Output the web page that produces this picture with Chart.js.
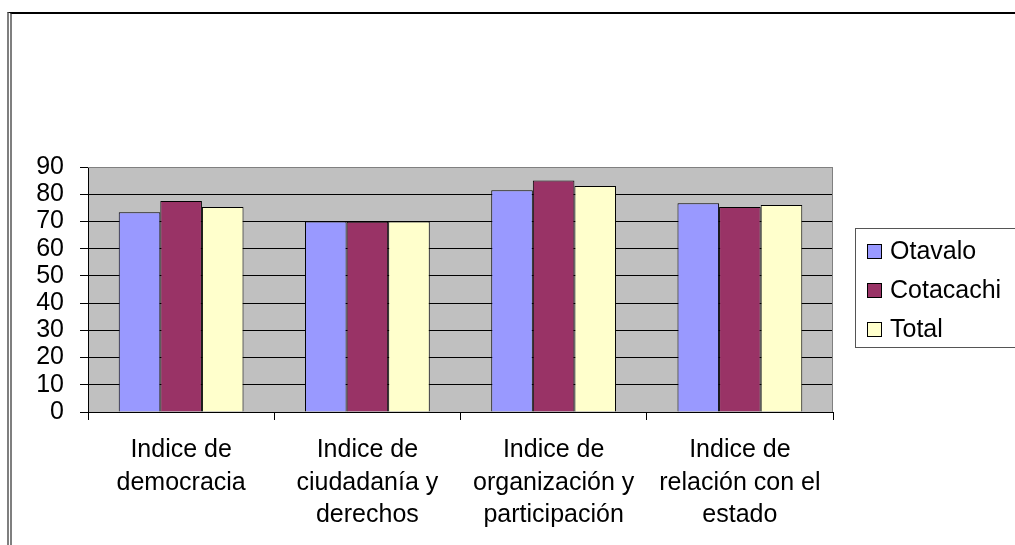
<!DOCTYPE html>
<html>
<head>
<meta charset="utf-8">
<script src="https://cdn.jsdelivr.net/npm/chart.js@4/dist/chart.umd.min.js"></script>
<style>
  html, body { margin: 0; padding: 0; background: #fff; }
  #wrap { position: relative; width: 1015px; height: 545px; overflow: hidden; }
  #frame {
    position: absolute; left: 7px; top: 12px; width: 1100px; height: 600px;
    border-top: 2px solid #000; border-left: 5px double #7f7f7f;
  }
  #chart { position: absolute; left: 0; top: 0; }
</style>
</head>
<body>
<div id="wrap">
  <div id="frame"></div>
  <canvas id="chart" width="1015" height="545"></canvas>
</div>
<script>
// categories (multi-line labels) and series values
const categories = [
  ['Indice de', 'democracia'],
  ['Indice de', 'ciudadanía y', 'derechos'],
  ['Indice de', 'organización y', 'participación'],
  ['Indice de', 'relación con el', 'estado']
];
const otavalo = [73.4, 70.0, 81.5, 76.7];
const cotacachi = [77.5, 69.9, 85.0, 75.3];
const total = [75.3, 70.0, 83.0, 76.0];
const seriesNames = ['Otavalo', 'Cotacachi', 'Total'];
const seriesColors = ['#9999FF', '#993366', '#FFFFCC'];

const FONT = "'Liberation Sans', Arial, sans-serif";
Chart.defaults.font.family = FONT;
Chart.defaults.font.size = 25;
Chart.defaults.color = '#000';

// grey plot background with grey top/right border
const plotBg = {
  id: 'plotBg',
  beforeDraw(chart) {
    const a = chart.chartArea, c = chart.ctx;
    c.save();
    c.fillStyle = '#C0C0C0';
    c.fillRect(a.left, a.top, a.right - a.left, a.bottom - a.top);
    c.restore();
  },
  afterDatasetsDraw(chart) {
    const a = chart.chartArea, c = chart.ctx;
    c.save();
    c.strokeStyle = '#808080';
    c.lineWidth = 1;
    c.beginPath();
    c.moveTo(a.left, a.top + 0.5);
    c.lineTo(a.right - 0.5, a.top + 0.5);
    c.lineTo(a.right - 0.5, a.bottom);
    c.stroke();
    c.restore();
  }
};

// boxed legend at the right, like the Excel original
const boxLegend = {
  id: 'boxLegend',
  afterDraw(chart) {
    const c = chart.ctx;
    c.save();
    c.strokeStyle = '#555';
    c.lineWidth = 1;
    c.strokeRect(855.5, 228.5, 200, 119);
    c.font = '25px ' + FONT;
    c.textBaseline = 'middle';
    chart.data.datasets.forEach((ds, i) => {
      const y = 251 + i * 39;
      c.fillStyle = ds.backgroundColor;
      c.fillRect(867, y - 7, 14, 14);
      c.strokeStyle = '#000';
      c.strokeRect(867.5, y - 6.5, 14, 14);
      c.fillStyle = '#000';
      c.fillText(ds.label, 890, y + 1);
    });
    c.restore();
  }
};

new Chart(document.getElementById('chart'), {
  type: 'bar',
  data: {
    labels: categories,
    datasets: [otavalo, cotacachi, total].map((d, i) => ({
      label: seriesNames[i],
      data: d,
      backgroundColor: seriesColors[i],
      borderColor: '#000',
      borderWidth: 1,
      categoryPercentage: 0.67,
      barPercentage: 1
    }))
  },
  options: {
    responsive: false,
    animation: false,
    devicePixelRatio: 1,
    layout: { padding: { left: 0, top: 167, right: 182, bottom: 0 } },
    plugins: {
      legend: { display: false },
      tooltip: { enabled: false }
    },
    scales: {
      x: {
        afterFit(scale) { scale.height = 133; },
        grid: {
          offset: true,
          drawOnChartArea: false,
          tickLength: 8,
          color: '#000'
        },
        border: { color: '#000' },
        ticks: {
          padding: 14,
          maxRotation: 0,
          autoSkip: false,
          font: { size: 25, lineHeight: '32.5px' }
        }
      },
      y: {
        min: 0,
        max: 90,
        afterFit(scale) { scale.width = 88; },
        grid: {
          tickLength: 8,
          tickColor: '#000',
          color: (ctx) => (ctx.tick && ctx.tick.value === 90 ? '#808080' : '#000')
        },
        border: { color: '#000' },
        ticks: {
          stepSize: 10,
          autoSkip: false,
          padding: 16,
          font: { size: 25, lineHeight: 1 }
        }
      }
    }
  },
  plugins: [plotBg, boxLegend]
});
</script>
</body>
</html>
